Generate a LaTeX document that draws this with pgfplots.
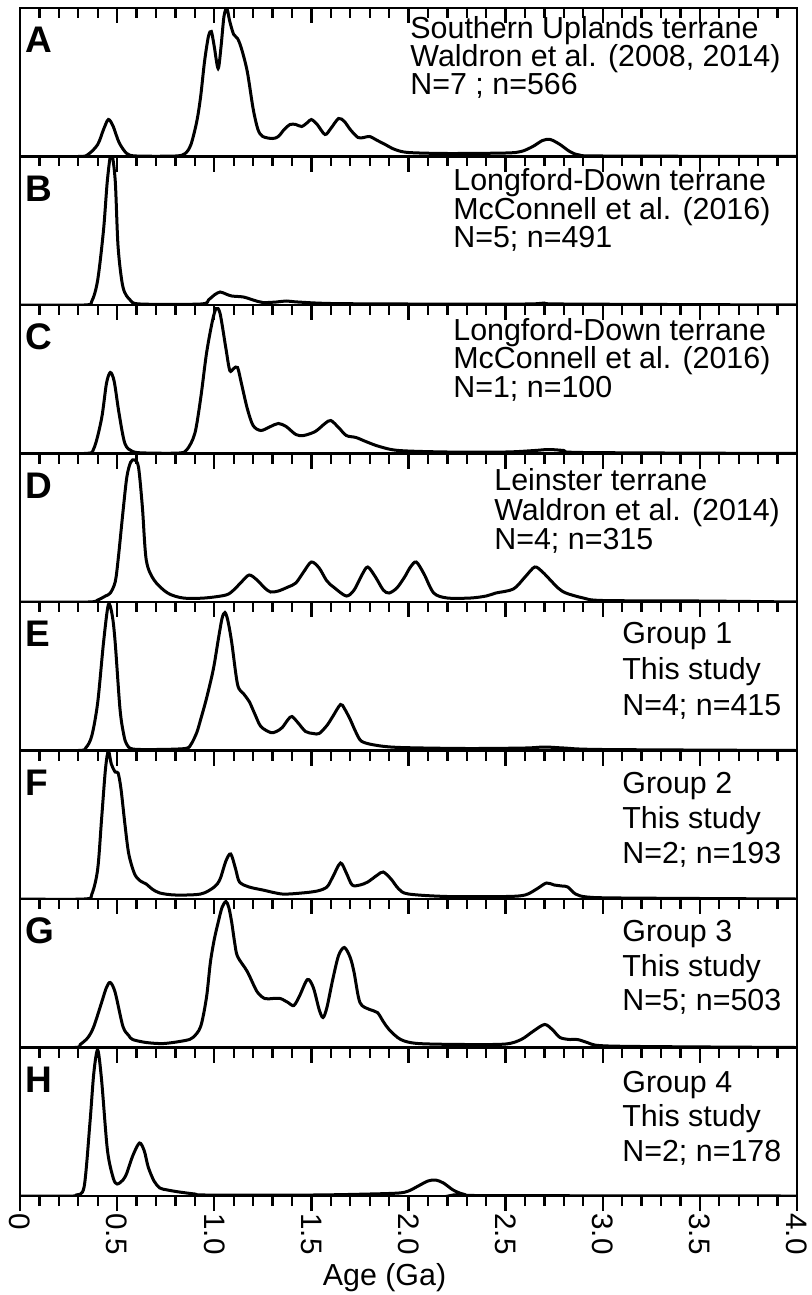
\documentclass[border=0pt]{standalone}
\usepackage{fontspec}
\setmainfont{Liberation Sans}
\usepackage{pgfplots}
\pgfplotsset{compat=1.18}
\pgfplotsset{
  panel/.style={
    scale only axis, width=388.5pt, height=74.25pt,
    xmin=0, xmax=4, ymin=0, ymax=148.5,
    ytick=\empty,
    xtick={0,0.5,1,1.5,2,2.5,3,3.5,4},
    minor x tick num=4,
    xticklabels=\empty,
    xtick pos=right,
    tick align=inside,
    major tick length=7.5pt, minor tick length=5pt,
    every tick/.style={black, line width=1.15pt},
    axis line style={line width=1.3pt},
    anchor=origin,
  },
  curve/.style={black, line width=1.5pt, smooth, tension=0.5, no markers},
}
\newcommand{\plab}[1]{\node[anchor=base west, inner sep=0, font=\bfseries\fontsize{18.5}{18.5}\selectfont] at (axis cs:0.026,104) {#1};}
\newcommand{\tl}[3]{\node[anchor=base west, inner sep=0, font=\fontsize{15.2}{15.2}\selectfont] at (axis cs:#1,#2) {#3};}
\begin{document}
\begin{tikzpicture}
\path[use as bounding box] (0,0) rectangle (405.5pt,-647.5pt);
% A
\begin{axis}[panel, at={(10pt,-78.25pt)}]
\addplot[curve] coordinates {(0,0) (0.30,0) (0.35,2) (0.40,12) (0.43,27) (0.455,37) (0.48,30) (0.51,14) (0.55,3) (0.60,0.5) (0.80,0.5) (0.85,3) (0.88,12) (0.91,35) (0.93,60) (0.95,95) (0.97,120) (0.985,125) (1.0,110) (1.02,88) (1.035,110) (1.05,140) (1.065,148) (1.08,135) (1.10,122) (1.12,118) (1.14,108) (1.17,85) (1.20,48) (1.225,27) (1.25,20) (1.30,18) (1.33,20) (1.36,27) (1.39,32) (1.42,32) (1.45,30) (1.48,34) (1.50,37) (1.53,32) (1.57,22) (1.60,28) (1.64,38) (1.67,35) (1.70,27) (1.74,19) (1.77,19) (1.80,20) (1.84,16) (1.88,12) (1.93,7) (2.0,4) (2.2,3) (2.5,3.5) (2.58,5) (2.64,10) (2.69,16) (2.73,17) (2.78,12) (2.83,5) (2.88,1.5) (3.0,0.5) (4.0,0)};
\plab{A}
\tl{2.008}{118}{Southern Uplands terrane}
\tl{2.008}{90}{Waldron et al. (2008, 2014)}
\tl{2.008}{62}{N=7 ; n=566}
\end{axis}
% B
\begin{axis}[panel, at={(10pt,-152.5pt)}]
\addplot[curve] coordinates {(0,0) (0.33,0) (0.37,4) (0.40,25) (0.43,75) (0.45,125) (0.47,152) (0.49,125) (0.505,58) (0.53,18) (0.567,5) (0.62,1) (0.93,1) (0.97,5) (1.0,10) (1.03,13) (1.06,11) (1.09,9) (1.15,8) (1.2,5) (1.25,2.5) (1.32,3) (1.37,4) (1.43,3) (1.6,1.5) (2.0,1) (2.6,1) (2.7,2) (2.8,1) (4.0,0)};
\plab{B}
\tl{2.229}{115}{Longford-Down terrane}
\tl{2.229}{86}{McConnell et al. (2016)}
\tl{2.229}{58}{N=5; n=491}
\end{axis}
% C
\begin{axis}[panel, at={(10pt,-226.75pt)}]
\addplot[curve] coordinates {(0,0) (0.33,0) (0.38,5) (0.42,35) (0.445,70) (0.465,81) (0.485,72) (0.51,40) (0.54,10) (0.58,2) (0.65,0.5) (0.82,0.5) (0.86,4) (0.90,20) (0.93,55) (0.96,100) (0.99,132) (1.01,145) (1.03,140) (1.06,105) (1.08,83) (1.10,85) (1.12,86) (1.14,70) (1.17,45) (1.20,28) (1.24,23) (1.29,27) (1.33,30) (1.37,27) (1.42,19) (1.46,18) (1.52,22) (1.57,30) (1.60,33) (1.64,26) (1.68,18) (1.73,16) (1.78,12) (1.85,7) (1.95,3) (2.2,1.5) (2.5,1.5) (2.65,3) (2.72,4) (2.8,3) (2.9,1) (4.0,0)};
\plab{C}
\tl{2.229}{113}{Longford-Down terrane}
\tl{2.229}{85}{McConnell et al. (2016)}
\tl{2.229}{56}{N=1; n=100}
\end{axis}
% D
\begin{axis}[panel, at={(10pt,-301pt)}]
\addplot[curve] coordinates {(0,0) (0.35,0) (0.40,2) (0.44,6) (0.465,9) (0.49,20) (0.505,42) (0.53,90) (0.55,125) (0.57,140) (0.59,142) (0.61,135) (0.63,95) (0.65,42) (0.69,22) (0.76,9) (0.84,4) (0.95,4) (1.06,7) (1.10,12) (1.14,20) (1.18,27) (1.22,22) (1.26,14) (1.29,10) (1.33,11) (1.38,15) (1.42,19) (1.46,30) (1.50,40) (1.54,34) (1.58,21) (1.62,14) (1.68,6) (1.72,12) (1.76,27) (1.79,35) (1.83,25) (1.87,12) (1.90,9) (1.94,14) (1.98,25) (2.01,35) (2.04,40) (2.08,28) (2.13,9) (2.20,4) (2.32,4) (2.40,6) (2.45,9) (2.54,13) (2.60,25) (2.65,35) (2.69,30) (2.73,22) (2.77,14) (2.81,9) (2.9,4) (3.0,1.5) (3.5,1) (4.0,0)};
\plab{D}
\tl{2.44}{112}{Leinster terrane}
\tl{2.44}{82}{Waldron et al. (2014)}
\tl{2.44}{53}{N=4; n=315}
\end{axis}
% E
\begin{axis}[panel, at={(10pt,-375.25pt)}]
\addplot[curve] coordinates {(0,0) (0.30,0) (0.34,3) (0.37,15) (0.40,48) (0.43,108) (0.455,146) (0.475,135) (0.49,108) (0.515,41) (0.535,15) (0.55,6) (0.58,1.5) (0.70,1) (0.85,2) (0.88,6) (0.91,18) (0.93,31) (0.96,52) (0.995,81) (1.02,110) (1.04,132) (1.055,138) (1.07,130) (1.09,108) (1.12,66) (1.15,57) (1.18,49) (1.21,36) (1.24,24) (1.29,18) (1.32,19) (1.35,23) (1.38,31) (1.40,34) (1.43,28) (1.47,19) (1.51,17) (1.54,17) (1.58,25) (1.61,34) (1.65,46) (1.67,42) (1.70,31) (1.73,18) (1.76,9) (1.84,5) (1.96,3) (2.3,2) (2.6,2.5) (2.7,3.5) (2.8,2.5) (3.0,1) (4.0,0)};
\plab{E}
\tl{3.099}{107}{Group 1}
\tl{3.099}{71}{This study}
\tl{3.099}{35}{N=4; n=415}
\end{axis}
% F
\begin{axis}[panel, at={(10pt,-449.5pt)}]
\addplot[curve] coordinates {(0,0) (0.33,0) (0.37,5) (0.40,30) (0.42,80) (0.44,130) (0.455,148) (0.47,135) (0.49,127) (0.505,126) (0.52,110) (0.54,75) (0.56,45) (0.59,25) (0.62,18) (0.65,15) (0.68,10) (0.72,6) (0.80,4) (0.93,5) (1.0,12) (1.03,20) (1.06,38) (1.085,45) (1.11,30) (1.13,17) (1.18,12) (1.25,9) (1.35,5) (1.45,6) (1.53,8) (1.58,12) (1.61,22) (1.65,36) (1.68,26) (1.71,14) (1.75,14) (1.79,17) (1.84,24) (1.87,27) (1.91,20) (1.95,10) (2.0,5) (2.2,2.5) (2.5,2.5) (2.6,4) (2.66,10) (2.71,16) (2.75,14) (2.79,13) (2.82,12) (2.86,5) (2.92,2) (3.1,1) (4.0,0)};
\plab{F}
\tl{3.099}{106}{Group 2}
\tl{3.099}{71}{This study}
\tl{3.099}{36}{N=2; n=193}
\end{axis}
% G
\begin{axis}[panel, at={(10pt,-523.75pt)}]
\addplot[curve] coordinates {(0,0) (0.28,0) (0.31,3) (0.35,10) (0.38,21) (0.42,45) (0.445,60) (0.465,65) (0.49,55) (0.53,21) (0.56,12) (0.58,8) (0.65,5) (0.74,4) (0.85,7) (0.89,10) (0.93,21) (0.96,50) (0.98,85) (1.00,108) (1.02,125) (1.04,140) (1.06,146) (1.075,140) (1.09,125) (1.105,105) (1.12,91) (1.17,76) (1.22,56) (1.26,49) (1.30,49) (1.34,49) (1.38,45) (1.41,42) (1.44,52) (1.48,68) (1.51,60) (1.54,38) (1.56,30) (1.58,40) (1.61,68) (1.64,92) (1.67,100) (1.70,90) (1.72,75) (1.75,45) (1.80,38) (1.84,35) (1.87,26) (1.90,18) (1.96,8) (2.05,4) (2.3,3) (2.5,3.5) (2.58,8) (2.64,16) (2.70,23) (2.74,18) (2.78,10) (2.83,8) (2.87,8) (2.92,5) (2.98,2) (3.2,1) (4.0,0)};
\plab{G}
\tl{3.099}{106}{Group 3}
\tl{3.099}{71}{This study}
\tl{3.099}{37}{N=5; n=503}
\end{axis}
% H
\begin{axis}[panel, at={(10pt,-598pt)}]
\addplot[curve] coordinates {(0,0) (0.27,0) (0.29,1) (0.33,9) (0.36,73) (0.38,123) (0.40,146) (0.42,116) (0.45,46) (0.48,18) (0.50,12) (0.53,16) (0.55,23) (0.58,40) (0.615,53) (0.64,45) (0.66,29) (0.69,15) (0.72,8) (0.76,6) (0.82,4) (0.9,2) (0.96,1) (1.5,1) (1.8,2) (1.95,3) (2.0,5) (2.05,10) (2.10,15) (2.14,16) (2.18,13) (2.23,6) (2.28,2) (2.35,0.5) (4.0,0)};
\plab{H}
\tl{3.099}{104}{Group 4}
\tl{3.099}{70}{This study}
\tl{3.099}{35}{N=2; n=178}
\end{axis}
% bottom axis with labels
\begin{axis}[panel, at={(10pt,-598pt)},
  xtick pos=left, tick align=outside,
  xticklabels={0,0.5,1.0,1.5,2.0,2.5,3.0,3.5,4.0},
  /pgf/number format/assume math mode=true,
  xticklabel style={rotate=-90, anchor=west, font=\fontsize{14.8}{14.8}\selectfont, inner sep=1pt},
]
\end{axis}
\node[anchor=base, font=\fontsize{15.2}{15.2}\selectfont] at (192.25pt,-642.5pt) {Age (Ga)};
\end{tikzpicture}
\end{document}
